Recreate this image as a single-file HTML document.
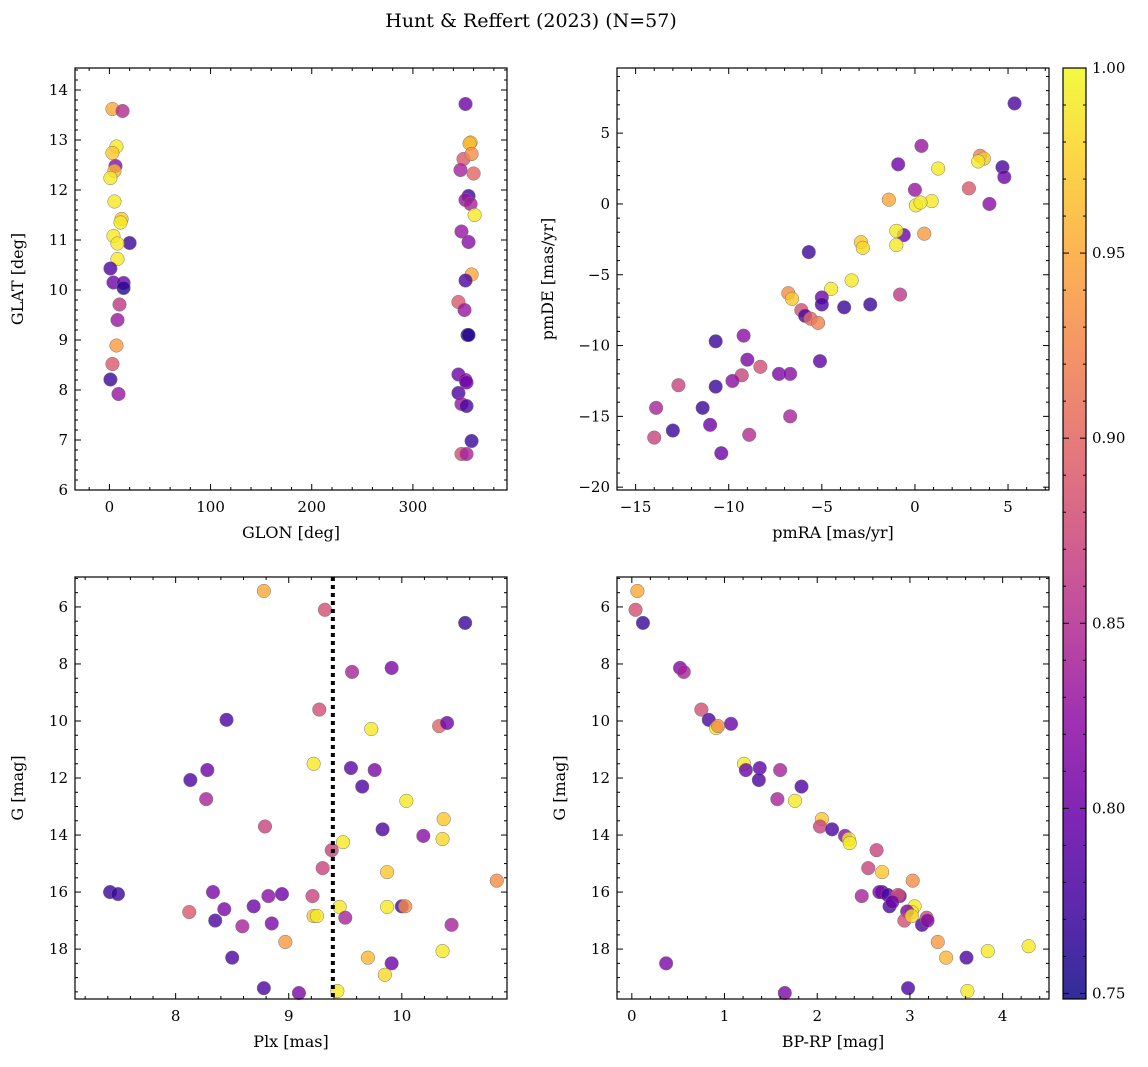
<!DOCTYPE html>
<html><head><meta charset="utf-8"><style>
html,body{margin:0;padding:0;background:#fff;}
svg{display:block;font-family:"DejaVu Serif","Liberation Serif",serif;}
</style></head><body>
<svg id="chart" width="1148" height="1067" viewBox="0 0 1148 1067" xmlns="http://www.w3.org/2000/svg">
<defs><linearGradient id="plasmaGrad" x1="0" y1="1" x2="0" y2="0"></linearGradient></defs>
<text x="531" y="27" font-size="19" text-anchor="middle">Hunt &amp; Reffert (2023) (N=57)</text>
</svg>
<script>
// ---------- data ----------
const glon = [3,13,7,3,6,5,1,5,12,11,4,20,8,8,1,4,14,14,10,8,7,3,1,9,352,357,356,350,358,347,360,355,352,357,361,348,355,358,352,345,351,354,355,345,352,353,345,348,353,358,348,353];
const glat = [13.62,13.58,12.87,12.74,12.48,12.38,12.24,11.77,11.42,11.35,11.08,10.94,10.93,10.62,10.43,10.15,10.14,10.04,9.71,9.40,8.89,8.52,8.21,7.92,13.72,12.95,12.93,12.62,12.72,12.40,12.33,11.88,11.80,11.72,11.50,11.17,10.96,10.31,10.19,9.76,9.60,9.10,9.10,8.31,8.20,8.15,7.94,7.72,7.68,6.98,6.72,6.72];
const probPos = [0.95,0.85,0.99,0.97,0.82,0.96,0.99,0.99,0.97,0.99,0.99,0.77,0.99,0.99,0.78,0.80,0.80,0.76,0.86,0.83,0.94,0.89,0.77,0.83,0.80,0.97,0.96,0.89,0.93,0.84,0.90,0.77,0.83,0.84,0.99,0.83,0.82,0.95,0.78,0.89,0.83,0.76,0.76,0.80,0.82,0.80,0.78,0.83,0.78,0.77,0.88,0.84];

const pmra = [5.35,4.7,4.8,3.5,3.7,3.4,2.9,4.0,0.35,-0.9,1.25,0.0,-1.4,0.9,0.05,0.3,0.5,-0.6,-1.0,-1.0,-2.9,-2.8,-5.7,-3.4,-4.5,-6.8,-6.6,-5.0,-5.0,-3.8,-2.4,-0.8,-6.1,-5.9,-5.6,-5.2,-5.1,-9.2,-10.7,-8.3,-9.0,-9.3,-9.8,-7.3,-6.7,-10.7,-12.7,-11.0,-11.4,-13.9,-13.0,-14.0,-8.9,-6.7,-10.4];
const pmde = [7.1,2.6,1.9,3.4,3.2,3.0,1.1,0.0,4.1,2.8,2.5,1.0,0.3,0.2,-0.1,0.1,-2.1,-2.2,-1.9,-2.9,-2.7,-3.1,-3.4,-5.4,-6.0,-6.3,-6.7,-6.6,-7.1,-7.3,-7.1,-6.4,-7.5,-7.9,-8.1,-8.4,-11.1,-9.3,-9.7,-11.5,-11.0,-12.1,-12.5,-12.0,-12.0,-12.9,-12.8,-15.6,-14.4,-14.4,-16.0,-16.5,-16.3,-15.0,-17.6];
const probPm = [0.78,0.78,0.80,0.92,0.97,0.99,0.89,0.82,0.83,0.80,0.99,0.83,0.95,0.99,0.99,0.99,0.94,0.80,0.99,0.99,0.97,0.98,0.77,0.99,0.99,0.93,0.97,0.80,0.78,0.77,0.77,0.86,0.88,0.78,0.90,0.92,0.79,0.82,0.77,0.88,0.81,0.87,0.82,0.81,0.82,0.77,0.87,0.80,0.77,0.84,0.77,0.87,0.85,0.84,0.80];

const plx = [8.78,9.32,10.56,9.91,9.56,9.27,8.45,9.73,10.33,10.40,8.13,8.28,9.22,9.55,9.76,9.65,8.27,10.04,10.37,9.83,8.79,10.19,10.36,9.48,9.38,9.30,9.87,10.84,7.42,7.49,8.33,8.82,8.94,9.21,8.12,8.43,8.35,8.69,8.85,8.59,9.22,9.25,9.45,9.50,9.87,10.0,10.03,10.44,8.97,9.70,10.36,8.50,9.91,9.85,8.78,9.09,9.43];
const gPlx = [5.44,6.1,6.56,8.14,8.28,9.6,9.96,10.28,10.18,10.07,12.07,11.72,11.5,11.65,11.72,12.3,12.74,12.8,13.44,13.8,13.7,14.03,14.14,14.25,14.53,15.16,15.3,15.6,16.0,16.07,16.0,16.14,16.07,16.14,16.7,16.6,17.0,16.5,17.1,17.2,16.84,16.84,16.52,16.9,16.52,16.5,16.5,17.15,17.75,18.3,18.07,18.3,18.5,18.9,19.37,19.54,19.47];
const probPlx = [0.95,0.88,0.77,0.81,0.84,0.88,0.78,0.99,0.90,0.80,0.78,0.80,0.99,0.79,0.81,0.78,0.84,0.99,0.97,0.78,0.87,0.82,0.98,0.99,0.87,0.87,0.97,0.93,0.77,0.77,0.81,0.82,0.80,0.87,0.89,0.81,0.78,0.80,0.81,0.84,0.97,0.99,0.99,0.84,0.99,0.78,0.93,0.84,0.94,0.96,0.99,0.78,0.80,0.98,0.78,0.81,0.99];
const plxLine = [9.39];

const bprp = [0.06,0.04,0.12,0.52,0.56,0.75,0.83,0.91,0.93,1.07,1.21,1.23,1.38,1.37,1.6,1.83,1.57,1.76,2.05,2.03,2.16,2.3,2.34,2.35,2.64,2.55,2.70,3.03,2.48,2.70,2.67,2.76,2.89,2.87,2.78,2.81,3.05,3.02,2.97,2.94,3.02,3.13,3.18,3.19,3.3,3.39,3.61,3.84,4.28,0.37,2.98,3.62,1.65];
const gCmd = [5.44,6.1,6.56,8.14,8.28,9.6,9.96,10.25,10.18,10.1,11.5,11.72,11.65,12.07,11.72,12.3,12.74,12.8,13.44,13.7,13.8,14.03,14.14,14.28,14.53,15.16,15.3,15.6,16.14,16.0,16.0,16.1,16.14,16.1,16.5,16.35,16.5,16.7,16.68,17.0,16.84,17.15,16.9,17.0,17.75,18.3,18.3,18.07,17.9,18.5,19.37,19.47,19.54];
const probCmd = [0.95,0.88,0.77,0.81,0.84,0.88,0.78,0.99,0.93,0.80,0.99,0.80,0.79,0.78,0.84,0.78,0.84,0.99,0.97,0.87,0.78,0.82,0.99,0.99,0.87,0.87,0.97,0.93,0.84,0.77,0.81,0.78,0.80,0.88,0.78,0.80,0.99,0.99,0.81,0.88,0.98,0.78,0.88,0.81,0.94,0.96,0.78,0.99,0.99,0.81,0.78,0.99,0.81];

const cbTicks = [0.75,0.80,0.85,0.90,0.95,1.00];

// ---------- helpers ----------
const NS = "http://www.w3.org/2000/svg";
const svg = document.getElementById('chart');
const stops = ["#0d0887","#41049d","#6a00a8","#8f0da4","#b12a90","#cc4778","#e16462","#f2844b","#fca636","#fcce25","#f0f921"];
const cmin = 0.7485, cmax = 1.0;
function hex(h){return [parseInt(h.substr(1,2),16),parseInt(h.substr(3,2),16),parseInt(h.substr(5,2),16)];}
function plasma(v){
  let t = Math.max(0,Math.min(1,(v-cmin)/(cmax-cmin)))*10;
  let i = Math.min(9,Math.floor(t)), f=t-i;
  let a=hex(stops[i]), b=hex(stops[i+1]);
  return `rgb(${a.map((x,k)=>Math.round(x+(b[k]-x)*f)).join(',')})`;
}
function mk(tag, attrs, parent){
  const e = document.createElementNS(NS, tag);
  for (const k in attrs) e.setAttribute(k, attrs[k]);
  (parent||svg).appendChild(e);
  return e;
}
function lin(d0,d1,r0,r1){return v=>r0+(v-d0)*(r1-r0)/(d1-d0);}

function panel(o){
  const g = mk('g',{});
  
  
  const L=o.box[0],T=o.box[1],R=o.box[2],B=o.box[3];
  const sx = lin(o.xd[0],o.xd[1],L,R);
  const sy = o.yinv ? lin(o.yd[0],o.yd[1],T,B) : lin(o.yd[0],o.yd[1],B,T);
  // points
  const pg = mk('g',{},g);
  
  
  for(let i=0;i<o.x.length;i++){
    const c = mk('circle',{cx:sx(o.x[i]),cy:sy(o.y[i]),r:6.8,fill:plasma(o.c[i]),'fill-opacity':0.8,stroke:'#777','stroke-width':0.5},pg);
    
    
  }
  if(o.vline){
    for(const v of o.vline){
      const l = mk('line',{x1:sx(v),x2:sx(v),y1:T,y2:B,stroke:'#000','stroke-width':4,'stroke-dasharray':'4,4'},g);
      
      
    }
  }
  const fr = mk('rect',{x:L,y:T,width:R-L,height:B-T,fill:'none',stroke:'#000','stroke-width':1.2},g);
  
  
  // x ticks
  const ax = mk('g',{},g);
  
  
  const eps=1e-9;
  for(let v=Math.ceil(o.xd[0]/o.xm-eps)*o.xm; v<=o.xd[1]+eps; v+=o.xm){
    const major = Math.abs(v/o.xM-Math.round(v/o.xM))<1e-6;
    const len = major?6:3, X=sx(v);
    mk('line',{x1:X,x2:X,y1:B,y2:B-len,stroke:'#000','stroke-width':1},ax);
    mk('line',{x1:X,x2:X,y1:T,y2:T+len,stroke:'#000','stroke-width':1},ax);
    if(major){
      const t = mk('text',{x:X,y:B+22,'font-size':15,'text-anchor':'middle'},ax);
      t.textContent = (Math.round(v*100)/100).toString().replace('-','\u2212');
      
      
    }
  }
  const ay = mk('g',{},g);
  
  
  const ylo=Math.min(o.yd[0],o.yd[1]), yhi=Math.max(o.yd[0],o.yd[1]);
  for(let v=Math.ceil(ylo/o.ym-eps)*o.ym; v<=yhi+eps; v+=o.ym){
    const major = Math.abs(v/o.yM-Math.round(v/o.yM))<1e-6;
    const len = major?6:3, Y=sy(v);
    mk('line',{x1:L,x2:L+len,y1:Y,y2:Y,stroke:'#000','stroke-width':1},ay);
    mk('line',{x1:R,x2:R-len,y1:Y,y2:Y,stroke:'#000','stroke-width':1},ay);
    if(major){
      const t = mk('text',{x:L-7,y:Y+5,'font-size':15,'text-anchor':'end'},ay);
      t.textContent = (Math.round(v*100)/100).toString().replace('-','\u2212');
      
      
    }
  }
  const xl = mk('text',{x:(L+R)/2,y:B+48,'font-size':16,'text-anchor':'middle'},g);
  xl.textContent=o.xlab;
  
  
  const yl = mk('text',{x:0,y:0,'font-size':16,'text-anchor':'middle',transform:`translate(${o.ylx},${(T+B)/2}) rotate(-90)`},g);
  yl.textContent=o.ylab;
  
  
}

panel({name:'position-panel',box:[75,68,507,490],xd:[-34,393],yd:[6,14.44],x:glon,y:glat,c:probPos,xM:100,xm:20,yM:1,ym:0.2,xlab:'GLON [deg]',ylab:'GLAT [deg]',ylx:23});
panel({name:'proper-motion-panel',box:[617,68,1049,490],xd:[-16.0,7.2],yd:[-20.2,9.6],x:pmra,y:pmde,c:probPm,xM:5,xm:1,yM:5,ym:1,xlab:'pmRA [mas/yr]',ylab:'pmDE [mas/yr]',ylx:553});
panel({name:'parallax-magnitude-panel',box:[75,577,507,999],xd:[7.11,10.93],yd:[4.95,19.75],yinv:true,x:plx,y:gPlx,c:probPlx,vline:plxLine,xM:1,xm:0.2,yM:2,ym:0.5,xlab:'Plx [mas]',ylab:'G [mag]',ylx:23});
panel({name:'color-magnitude-panel',box:[617,577,1049,999],xd:[-0.16,4.5],yd:[4.95,19.75],yinv:true,x:bprp,y:gCmd,c:probCmd,xM:1,xm:0.2,yM:2,ym:0.5,xlab:'BP-RP [mag]',ylab:'G [mag]',ylx:565});

// colorbar
const grad = document.getElementById('plasmaGrad');
stops.forEach((s,i)=>mk('stop',{offset:(i/10),'stop-color':s},grad));
const cb = mk('g',{});


const cL=1063,cR=1086,cT=68,cB=999;
mk('rect',{x:cL,y:cT,width:cR-cL,height:cB-cT,fill:'url(#plasmaGrad)','fill-opacity':0.85},cb);
mk('rect',{x:cL,y:cT,width:cR-cL,height:cB-cT,fill:'none',stroke:'#000','stroke-width':1.2},cb);
const cy = lin(cmin,cmax,cB,cT);
for(let k=75;k<=100;k++){
  const v=k/100, Y=cy(v), major = k%5===0, len = major?6:3;
  mk('line',{x1:cR,x2:cR-len,y1:Y,y2:Y,stroke:'#000','stroke-width':1},cb);
  mk('line',{x1:cL,x2:cL+len,y1:Y,y2:Y,stroke:'#000','stroke-width':1},cb);
}
cbTicks.forEach(v=>{
  const t = mk('text',{x:cR+6,y:cy(v)+5,'font-size':15},cb);
  t.textContent = v.toFixed(2);
  
  
});
</script>
</body></html>
